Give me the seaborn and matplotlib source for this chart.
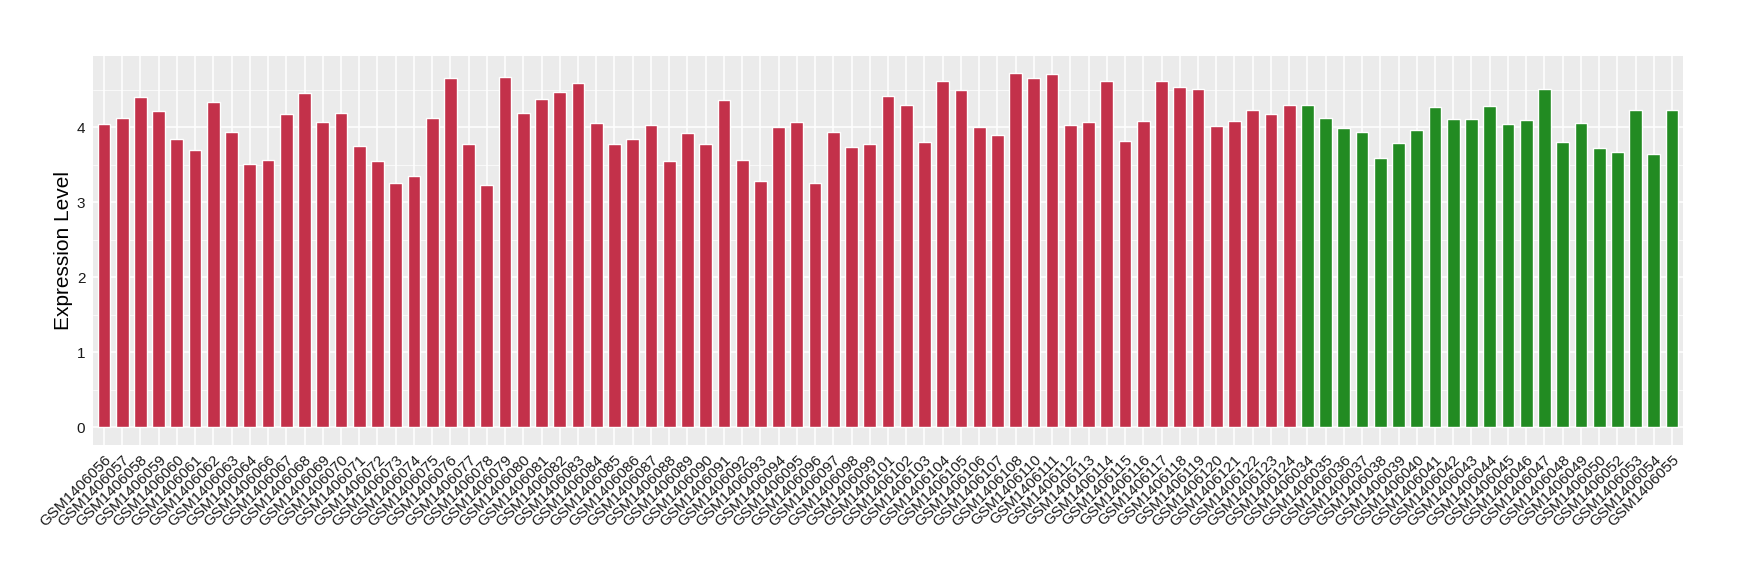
import matplotlib
matplotlib.use("Agg")
import matplotlib.pyplot as plt
import seaborn as sns
import pandas as pd
from matplotlib.ticker import MultipleLocator

tumor_ids = ["056","057","058","059","060","061","062","063","064","066","067","068","069","070",
             "071","072","073","074","075","076","077","078","079","080","081","082","083","084",
             "085","086","087","088","089","090","091","092","093","094","095","096","097","098",
             "099","101","102","103","104","105","106","107","108","110","111","112","113","114",
             "115","116","117","118","119","120","121","122","123","124"]
tumor_values = [4.04,4.12,4.40,4.22,3.85,3.70,4.34,3.94,3.51,3.57,4.18,4.46,4.07,4.19,
                3.75,3.55,3.26,3.35,4.12,4.66,3.78,3.23,4.67,4.19,4.38,4.47,4.59,4.06,
                3.78,3.85,4.03,3.55,3.93,3.78,4.36,3.57,3.29,4.00,4.07,3.26,3.94,3.74,
                3.78,4.42,4.30,3.81,4.62,4.50,4.00,3.90,4.72,4.66,4.71,4.03,4.07,4.62,
                3.82,4.08,4.62,4.54,4.51,4.02,4.08,4.23,4.18,4.30]
normal_ids = ["034","035","036","037","038","039","040","041","042","043","044","045","046",
              "047","048","049","050","052","053","054","055"]
normal_values = [4.30,4.12,3.99,3.94,3.59,3.79,3.96,4.27,4.11,4.11,4.28,4.04,4.10,
                 4.51,3.81,4.06,3.73,3.67,4.23,3.65,4.23]

labels = ["GSM1406" + s for s in tumor_ids] + ["GSM1406" + s for s in normal_ids]
values = tumor_values + normal_values
groups = ["tumor"] * len(tumor_ids) + ["normal"] * len(normal_ids)
colors = {"tumor": "#C3314A", "normal": "#228B22"}

df = pd.DataFrame({"sample": labels, "value": values, "group": groups})

sns.set_theme(style="darkgrid")
plt.rcParams["font.family"] = ["Liberation Sans", "DejaVu Sans"]

fig = plt.figure(figsize=(17.4, 5.8), dpi=100)
ax = fig.add_axes([93/1740, 1-445/580, (1683-93)/1740, (445-55.5)/580])

sns.barplot(data=df, x="sample", y="value", hue="group", order=labels,
            palette=colors, dodge=False, width=0.7, legend=False, ax=ax,
            saturation=1, errorbar=None)

ax.set_facecolor("#EBEBEB")
for s in ax.spines.values():
    s.set_visible(False)
ax.set_xlim(-0.6, len(labels) - 1 + 0.6)
ax.set_ylim(-0.236, 4.96)
ax.yaxis.set_major_locator(MultipleLocator(1))
ax.yaxis.set_minor_locator(MultipleLocator(0.5))
ax.grid(which="major", color="white", linewidth=1.1)
ax.grid(which="minor", axis="y", color="white", linewidth=0.5)
ax.set_axisbelow(True)
ax.tick_params(axis="both", which="major", length=3.5, width=0.8, color="#333333",
               labelsize=11, labelcolor="#1a1a1a", pad=2)
ax.tick_params(axis="y", which="minor", length=0)
ax.set_xticks(range(len(labels)))
ax.set_xticklabels(labels, rotation=45, ha="right", rotation_mode="anchor")
ax.set_xlabel("")
ax.set_ylabel("Expression Level", fontsize=15, color="black", labelpad=3)

fig.savefig("out.png", dpi=100, facecolor="white")
